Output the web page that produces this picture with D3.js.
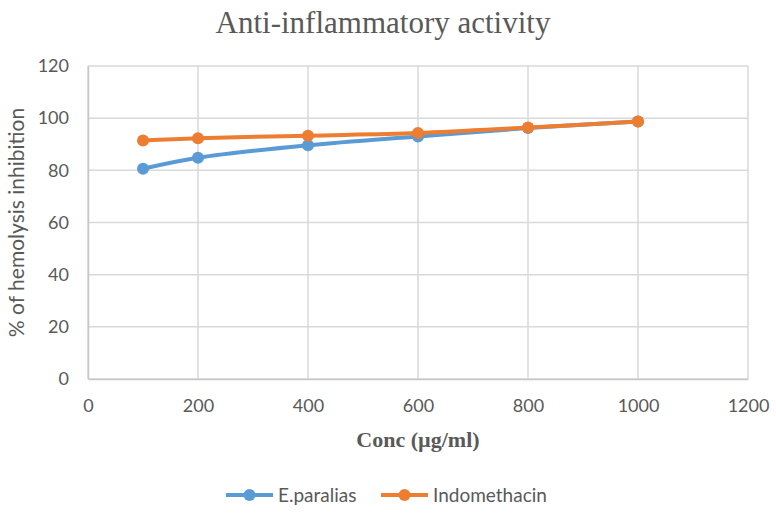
<!DOCTYPE html>
<html>
<head>
<meta charset="utf-8">
<script src="https://cdn.jsdelivr.net/npm/d3@7"></script>
<style>
  body { margin: 0; background: #fff; }
  text { fill: #595959; }
</style>
</head>
<body>
<div id="chart"></div>
<script>
// Data
const conc = [100, 200, 400, 600, 800, 1000];
const eParalias = [80.6, 84.8, 89.6, 93.0, 96.2, 98.7];
const indomethacin = [91.4, 92.3, 93.3, 94.3, 96.4, 98.7];
const xTicks = [0, 200, 400, 600, 800, 1000, 1200];
const yTicks = [0, 20, 40, 60, 80, 100, 120];
const seriesNames = ["E.paralias", "Indomethacin"];
const seriesColors = ["#5B9BD5", "#ED7D31"];

const width = 776;
const height = 516;
const margin = { top: 66, right: 28, bottom: 137, left: 88 };
const sans = "Lato, 'Open Sans', sans-serif";
const serif = "'Liberation Serif', 'Times New Roman', serif";

const svg = d3.select("#chart")
  .append("svg")
  .attr("width", width)
  .attr("height", height);

const x = d3.scaleLinear()
  .domain([0, 1200])
  .range([margin.left, width - margin.right]);

const y = d3.scaleLinear()
  .domain([0, 120])
  .range([height - margin.bottom, margin.top]);

// Grid lines
svg.append("g")
  .selectAll("line")
  .data(yTicks)
  .join("line")
  .attr("x1", x(0)).attr("x2", x(1200))
  .attr("y1", d => y(d)).attr("y2", d => y(d))
  .attr("stroke", "#d9d9d9")
  .attr("stroke-width", 1.5);

svg.append("g")
  .selectAll("line")
  .data(xTicks)
  .join("line")
  .attr("x1", d => x(d)).attr("x2", d => x(d))
  .attr("y1", y(0)).attr("y2", y(120))
  .attr("stroke", "#d9d9d9")
  .attr("stroke-width", 1.5);

// X axis
const xAxis = svg.append("g")
  .attr("transform", `translate(0,${y(0)})`)
  .call(d3.axisBottom(x).tickValues(xTicks).tickFormat(d3.format("d")).tickSize(0).tickPadding(20));
xAxis.select(".domain").attr("stroke", "#c8c8c8").attr("stroke-width", 1.5);
xAxis.selectAll("text")
  .attr("font-family", sans)
  .attr("font-size", 18)
  .attr("fill", "#595959");

// Y axis
const yAxis = svg.append("g")
  .attr("transform", `translate(${x(0)},0)`)
  .call(d3.axisLeft(y).tickValues(yTicks).tickSize(0).tickPadding(19));
yAxis.select(".domain").attr("stroke", "#c8c8c8").attr("stroke-width", 1.5);
yAxis.selectAll("text")
  .attr("font-family", sans)
  .attr("font-size", 18)
  .attr("fill", "#595959");

// Lines and markers
const line = d3.line()
  .x(d => x(d[0]))
  .y(d => y(d[1]))
  .curve(d3.curveCatmullRom.alpha(0.5));

[eParalias, indomethacin].forEach((vals, i) => {
  const pts = conc.map((c, j) => [c, vals[j]]);
  svg.append("path")
    .datum(pts)
    .attr("fill", "none")
    .attr("stroke", seriesColors[i])
    .attr("stroke-width", 4)
    .attr("stroke-linecap", "round")
    .attr("d", line);
  svg.append("g")
    .selectAll("circle")
    .data(pts)
    .join("circle")
    .attr("cx", d => x(d[0]))
    .attr("cy", d => y(d[1]))
    .attr("r", 6)
    .attr("fill", seriesColors[i]);
});

// Title
svg.append("text")
  .attr("x", 383)
  .attr("y", 33)
  .attr("text-anchor", "middle")
  .attr("font-family", serif)
  .attr("font-size", 31)
  .text("Anti-inflammatory activity");

// Axis titles
svg.append("text")
  .attr("x", (x(0) + x(1200)) / 2)
  .attr("y", 447)
  .attr("text-anchor", "middle")
  .attr("font-family", serif)
  .attr("font-weight", "bold")
  .attr("font-size", 22)
  .text("Conc (µg/ml)");

svg.append("text")
  .attr("transform", `translate(24,${(y(0) + y(120)) / 2}) rotate(-90)`)
  .attr("text-anchor", "middle")
  .attr("font-family", sans)
  .attr("font-size", 21)
  .text("% of hemolysis inhibition");

// Legend
const legendX = [226, 381];
seriesNames.forEach((name, i) => {
  const g = svg.append("g").attr("transform", `translate(${legendX[i]},495)`);
  g.append("line")
    .attr("x1", 0).attr("x2", 47)
    .attr("stroke", seriesColors[i])
    .attr("stroke-width", 4);
  g.append("circle")
    .attr("cx", 23.5)
    .attr("r", 6)
    .attr("fill", seriesColors[i]);
  g.append("text")
    .attr("x", 52)
    .attr("dy", "0.35em")
    .attr("font-family", sans)
    .attr("font-size", 19)
    .text(name);
});
</script>
</body>
</html>
